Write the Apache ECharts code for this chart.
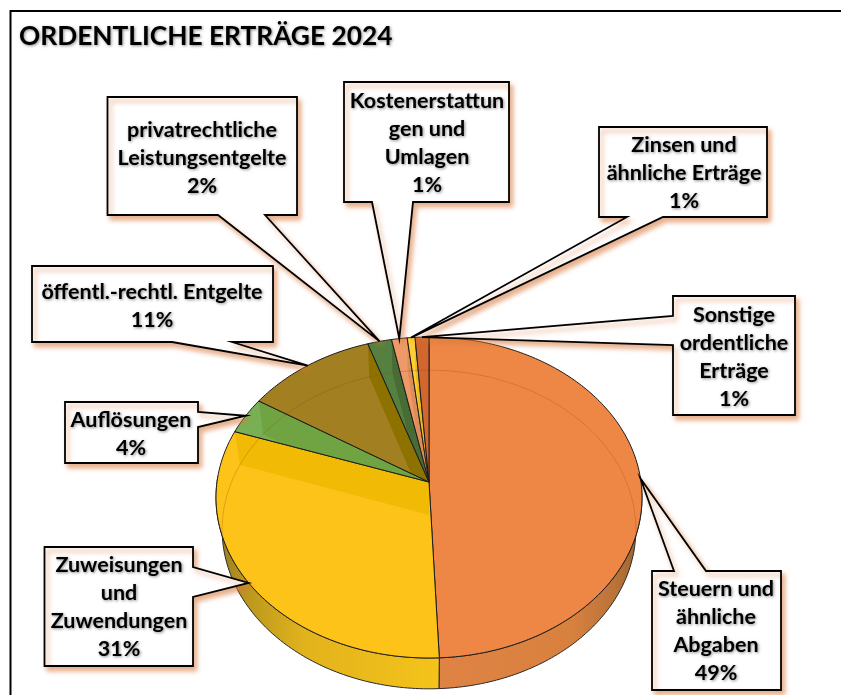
<!DOCTYPE html>
<html>
<head>
<meta charset="utf-8">
<style>html,body{margin:0;padding:0;background:#fff}#c{width:841px;height:695px}</style>
<script src="https://cdn.jsdelivr.net/npm/echarts@6/dist/echarts.min.js"></script>
</head>
<body>
<div id="c"></div>
<script>
// ---- data ----
const chartTitle = 'ORDENTLICHE ERTRÄGE 2024';
const categories = ['Steuern und\nähnliche\nAbgaben', 'Zuweisungen\nund\nZuwendungen', 'Auflösungen',
  'öffentl.-rechtl. Entgelte', 'privatrechtliche\nLeistungsentgelte', 'Kostenerstattun\ngen und\nUmlagen',
  'Zinsen und\nähnliche Erträge', 'Sonstige\nordentliche\nErträge'];
const shares = [49.3, 31.0, 3.7, 10.9, 2.0, 1.3, 0.65, 1.15];

// ---- styles and layout ----
const faceColors = ['#EE8745', '#FEC319', '#78B055', '#A27F20', '#55803F', '#EE9A68', '#FCCF35', '#D1672F'];
const bandColors = [null, '#F0BA05', '#70A342', '#8E7200', '#476C35', '#E08C58', '#E8BC20', null];
const wallStops = [
  [[0,'#DF8344'],[0.65,'#D8813F'],[0.88,'#B87238'],[1,'#96602F']],
  [[0,'#94781E'],[0.12,'#B8951E'],[0.4,'#E2B31C'],[1,'#F5C31A']]
];
const boxes = [ // box rect, tail anchors, text centre
  {r:[652,571,781,690], tail:[[674,571],[706,571]], c:[716,631.5]},
  {r:[44.5,547,193,666], tail:[[193,567],[193,597]], c:[119,607.5]},
  {r:[65,402,198,463], tail:[[198,412],[198,427]], c:[131,434]},
  {r:[32,266,273,342], tail:[[172,342],[232,342]], c:[152,306.5]},
  {r:[107.5,97,297,215], tail:[[218,215],[265,215]], c:[202,158]},
  {r:[344,82,509,202], tail:[[372,202],[413,202]], c:[427,143]},
  {r:[599,127,767,217], tail:[[627,217],[663,217]], c:[684,173]},
  {r:[673,296,795,415], tail:[[673,316],[673,345]], c:[734,357]}
];
const font = 'Lato, "Open Sans", sans-serif';
// perspective projection of the pie's top and bottom circles
const topDisc = {x:429, y:482, A:212, B:159, k:-0.0966};
const botDisc = {x:429, y:515, A:206, B:158, k:-0.091};
const topEllipse = {x:429, y:497.5, rx:213, ry:160.5};

const total = shares.reduce((a,b)=>a+b,0);
const bounds = [0];
shares.forEach(v => bounds.push(bounds[bounds.length-1] + v/total*360));

function proj(d, deg, r){
  r = r === undefined ? 1 : r;
  const t = deg*Math.PI/180, X = Math.sin(t)*r, Y = -Math.cos(t)*r, w = 1 + d.k*Y;
  return [d.x + d.A*X/w, d.y + d.B*Y/w];
}
function arc(d, a0, a1){
  const n = Math.max(2, Math.ceil(Math.abs(a1-a0)/1)), p = [];
  for(let i=0;i<=n;i++) p.push(proj(d, a0+(a1-a0)*i/n));
  return p;
}
function clipConvex(poly, clip){
  let out = poly;
  for(let i=0;i<clip.length;i++){
    const a = clip[i], b = clip[(i+1)%clip.length];
    const side = p => (b[0]-a[0])*(p[1]-a[1]) - (b[1]-a[1])*(p[0]-a[0]);
    const src = out; out = [];
    for(let j=0;j<src.length;j++){
      const p = src[j], q = src[(j+1)%src.length], sp = side(p), sq = side(q);
      if(sp >= 0) out.push(p);
      if((sp >= 0) !== (sq >= 0)){ const u = sp/(sp-sq); out.push([p[0]+(q[0]-p[0])*u, p[1]+(q[1]-p[1])*u]); }
    }
    if(!out.length) break;
  }
  return out;
}
const insideTop = p => Math.pow((p[0]-topEllipse.x)/topEllipse.rx,2) + Math.pow((p[1]-topEllipse.y)/topEllipse.ry,2) < 0.995;
const facePts = i => [[topDisc.x, topDisc.y]].concat(arc(topDisc, bounds[i], bounds[i+1]));

function renderWall(params){
  const i = params.dataIndex;
  if(i > 1) return {type:'group', children:[]};
  const a0 = Math.max(bounds[i], 88), a1 = Math.min(bounds[i+1], 272);
  const pts = arc(topDisc, a0, a1).concat(arc(botDisc, a0, a1).reverse());
  const xs = pts.map(p=>p[0]);
  return {type:'polygon', shape:{points:pts}, style:{
    fill:{type:'linear', global:true, x:Math.min(...xs), y:0, x2:Math.max(...xs), y2:0,
      colorStops:wallStops[i].map(s=>({offset:s[0],color:s[1]}))},
    stroke:'#2a2a2a', lineWidth:1}};
}
function renderFace(params){
  const i = params.dataIndex, poly = facePts(i), children = [];
  children.push({type:'polygon', shape:{points:poly}, style:{fill:faceColors[i], stroke:'none'}});
  // far wall of the slice, seen through the translucent top
  if(bandColors[i]){
    const band = [proj(topDisc,0,0), proj(topDisc,bounds[i+1]), proj(botDisc,bounds[i+1]), proj(botDisc,0,0)];
    const c = clipConvex(band, poly);
    if(c.length > 2) children.push({type:'polygon', shape:{points:c}, style:{fill:bandColors[i], stroke:'none'}});
  }
  // far rim of the bottom disc, seen through the top
  const rim = arc(botDisc, bounds[i], bounds[i+1]).filter(insideTop);
  if(rim.length > 1) children.push({type:'polyline', shape:{points:rim}, style:{fill:'none', stroke:'rgba(150,70,0,0.28)', lineWidth:1}});
  children.push({type:'polygon', shape:{points:poly}, style:{fill:'none', stroke:'#1c1c1c', lineWidth:1, lineJoin:'round'}});
  return {type:'group', children};
}
function renderCallout(params){
  const i = params.dataIndex, b = boxes[i], r = b.r;
  const tip = proj(topDisc, (bounds[i]+bounds[i+1])/2);
  const corners = [[r[0],r[1]],[r[2],r[1]],[r[2],r[3]],[r[0],r[3]]];
  // find which edge the tail sits on and insert it there
  const pts = [];
  const [t0,t1] = b.tail;
  corners.forEach((c,k)=>{
    pts.push(c);
    const onEdge = p => k%2===0 ? Math.abs(p[1]-c[1])<0.6 : Math.abs(p[0]-c[0])<0.6;
    if(onEdge(t0) && onEdge(t1)){
      const d = p => Math.abs(p[0]-c[0]) + Math.abs(p[1]-c[1]);
      const first = d(t0) < d(t1) ? t0 : t1, second = first === t0 ? t1 : t0;
      pts.push(first, tip, second);
    }
  });
  const pct = Math.round(shares[i]/total*100) + '%';
  return {type:'group', children:[
    {type:'polygon', shape:{points:pts}, style:{fill:'#fff', stroke:'#000', lineWidth:1.8, lineJoin:'miter',
      shadowColor:'rgba(215,120,60,0.6)', shadowBlur:5, shadowOffsetX:3, shadowOffsetY:4}},
    {type:'text', style:{text:categories[i]+'\n'+pct, x:b.c[0], y:b.c[1], align:'center', verticalAlign:'middle',
      fontFamily:font, fontWeight:'bold', fontSize:21.5, lineHeight:28, fill:'#000',
      textShadowColor:'rgba(0,0,0,0.45)', textShadowBlur:3, textShadowOffsetX:1, textShadowOffsetY:1}}
  ]};
}
const base = {type:'custom', coordinateSystem:'none', silent:true, animation:false, clip:false, data:shares};
const chart = echarts.init(document.getElementById('c'), null, {renderer:'canvas'});
chart.setOption({
  backgroundColor:'#fff',
  animation:false,
  title:{text:chartTitle, left:14, top:19, textStyle:{fontFamily:font, fontWeight:'bold', fontSize:26.3, color:'#000',
    textShadowColor:'rgba(0,0,0,0.45)', textShadowBlur:3, textShadowOffsetX:1, textShadowOffsetY:1}},
  graphic:[{type:'rect', z:-1, silent:true, shape:{x:10.5,y:11,width:860,height:720}, style:{fill:'none',stroke:'#000',lineWidth:2}}],
  series:[
    Object.assign({}, base, {name:'wall', renderItem:renderWall, z:2}),
    Object.assign({}, base, {name:'face', renderItem:renderFace, z:3}),
    Object.assign({}, base, {name:'callout', renderItem:renderCallout, z:4})
  ]
});
</script>
</body>
</html>
